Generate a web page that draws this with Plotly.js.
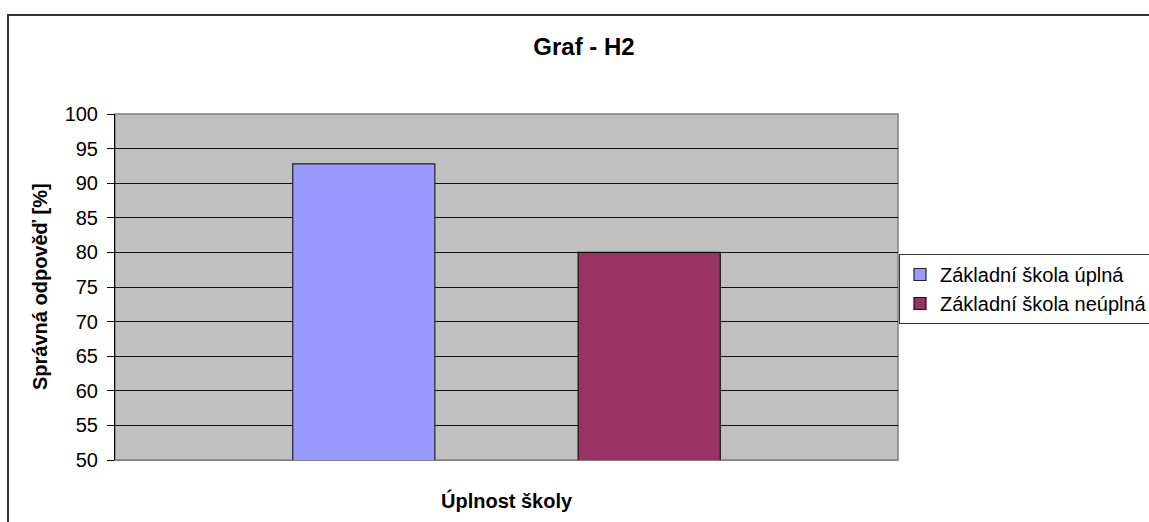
<!DOCTYPE html>
<html>
<head>
<meta charset="utf-8">
<script src="https://cdn.plot.ly/plotly-3.0.1.min.js"></script>
<style>
  html, body { margin: 0; padding: 0; background: #ffffff; overflow: hidden; width: 1149px; height: 522px; }
  #frame { position: absolute; left: 7px; top: 14px; border-left: 2px solid #333333; border-top: 2px solid #333333; width: 1150px; height: 530px; }
  #chart { width: 1150px; height: 530px; }
</style>
</head>
<body>
<div id="frame"><div id="chart"></div></div>
<script>
const chartTitle = 'Graf - H2';
const xTitle = 'Úplnost školy';
const yTitle = 'Správná odpověď [%]';
const categories = ['Úplnost školy'];
const seriesNames = ['Základní škola úplná', 'Základní škola neúplná'];
const seriesUplna = [92.8];
const seriesNeuplna = [80.0];
const seriesColors = ['#9999FF', '#993366'];
const yTicks = [50, 55, 60, 65, 70, 75, 80, 85, 90, 95, 100];

const W = 1150, H = 530;
const L = 106, R = 261, T = 98, B = 86;
const PW = W - L - R, PH = H - T - B;
const font = 'Liberation Sans, Arial, Helvetica, sans-serif';

const traces = [
  { type: 'bar', name: seriesNames[0], x: categories, y: seriesUplna,
    marker: { color: seriesColors[0], line: { color: '#222222', width: 1.2 } }, hoverinfo: 'y+name' },
  { type: 'bar', name: seriesNames[1], x: categories, y: seriesNeuplna,
    marker: { color: seriesColors[1], line: { color: '#111111', width: 1.2 } }, hoverinfo: 'y+name' }
];

const layout = {
  width: W, height: H,
  margin: { l: L, r: R, t: T, b: B, pad: 0, autoexpand: false },
  paper_bgcolor: '#ffffff',
  plot_bgcolor: '#C0C0C0',
  font: { family: font, color: '#000000', size: 20 },
  title: { text: '<b>' + chartTitle + '</b>', font: { family: font, size: 24, color: '#000000' },
           x: 0.5, xref: 'container', y: 1 - 31 / H, yref: 'container', yanchor: 'middle' },
  barmode: 'group',
  bargap: 0.271,
  bargroupgap: 0.502,
  xaxis: {
    type: 'category', range: [-0.5, 0.5], showticklabels: false, ticks: '',
    showgrid: false, zeroline: false, showline: true, linecolor: '#808080', linewidth: 1,
    fixedrange: true
  },
  yaxis: {
    range: [50, 100], tickmode: 'array', tickvals: yTicks, ticktext: yTicks.map(String),
    ticks: 'outside', ticklen: 7, tickwidth: 1, tickcolor: '#000000', ticklabelstandoff: 5,
    showgrid: true, gridcolor: '#111111', gridwidth: 1,
    zeroline: false, showline: true, linecolor: '#000000', linewidth: 1,
    tickfont: { family: font, size: 20, color: '#000000' },
    fixedrange: true
  },
  showlegend: true,
  legend: {
    x: (899 - 9 - L) / PW, xanchor: 'left',
    y: (444 - 238) / PH, yanchor: 'top',
    bgcolor: '#ffffff', bordercolor: '#333333', borderwidth: 1,
    font: { family: font, size: 20, color: '#000000' },
    tracegroupgap: 0, itemclick: false, itemdoubleclick: false
  },
  shapes: [
    { type: 'rect', xref: 'paper', yref: 'paper', x0: 0, x1: 1, y0: 0, y1: 1,
      line: { color: '#808080', width: 1.5 }, layer: 'below' }
  ],
  annotations: [
    { text: '<b>' + yTitle + '</b>', xref: 'paper', yref: 'paper', x: -(115 - 40) / PW, y: 0.5,
      xanchor: 'center', yanchor: 'middle', textangle: -90, showarrow: false,
      font: { family: font, size: 20, color: '#000000' } },
    { text: '<b>' + xTitle + '</b>', xref: 'paper', yref: 'paper', x: 0.5, y: -(500 - 460) / PH,
      xanchor: 'center', yanchor: 'middle', showarrow: false,
      font: { family: font, size: 20, color: '#000000' } }
  ]
};

Plotly.newPlot('chart', traces, layout, { displayModeBar: false, staticPlot: true });
</script>
</body>
</html>
